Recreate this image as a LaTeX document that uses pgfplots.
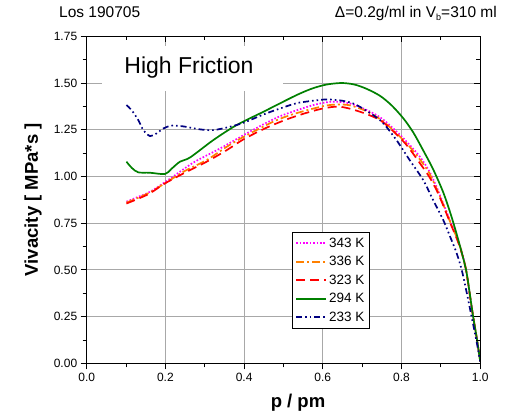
\documentclass[border=0pt]{standalone}
\usepackage{fontspec}
\setmainfont{Liberation Sans}
\usepackage{pgfplots}
\pgfplotsset{compat=1.18}
\definecolor{cmag}{HTML}{FF00FF}
\definecolor{myorange}{HTML}{FF8000}
\definecolor{cred}{HTML}{FF0000}
\definecolor{cgreen}{HTML}{008000}
\definecolor{cnavy}{HTML}{000080}
\definecolor{cgrid}{HTML}{A8A8A8}
\begin{document}
\begin{tikzpicture}[x=1bp,y=1bp]
\path[use as bounding box] (0,0) rectangle (512,414);
\node[anchor=base west,font=\fontsize{15.5bp}{17bp}\selectfont,inner sep=0] at (59,396) {Los 190705};
\node[anchor=base east,font=\fontsize{15.5bp}{17bp}\selectfont,inner sep=0] at (497,396) {Δ=0.2g/ml in V\raisebox{-0.35ex}{\fontsize{9bp}{10bp}\selectfont b}=310 ml};
\begin{axis}[
  at={(86.7bp,50.7bp)}, anchor=south west,
  scale only axis, width=393.5bp, height=327bp,
  xmin=0, xmax=1, ymin=0, ymax=1.75,
  xtick={0,0.2,...,1.0}, ytick={0,0.25,...,1.75},
  minor x tick num=1, minor y tick num=1,
  xtick pos=bottom, ytick pos=left,
  tick align=outside,
  major tick length=6bp, minor tick length=4bp,
  tick style={black, line width=0.8bp},
  grid=major, major grid style={cgrid, line width=0.8bp},
  axis line style={black, line width=1.1bp},
  ticklabel style={font=\fontsize{12bp}{14bp}\selectfont},
  /pgf/number format/assume math mode=true,
  xticklabel style={/pgf/number format/.cd, fixed, fixed zerofill, precision=1},
  yticklabel style={/pgf/number format/.cd, fixed, fixed zerofill, precision=2},
  xlabel={\textbf{p / pm}},
  ylabel={\textbf{Vivacity [ MPa*s ]}},
  label style={font=\fontsize{18.5bp}{20bp}\selectfont},
  xlabel style={at={(axis description cs:0.537,-0.12)}, anchor=center},
  ylabel style={at={(axis description cs:-0.1365,0.5)}, anchor=center},
  legend style={at={(0.522,0.4015)}, anchor=north west, draw=black,
    font=\fontsize{13.5bp}{15bp}\selectfont, inner xsep=3bp, inner ysep=3.5bp, row sep=3.6bp,
    legend cell align=left},
  legend image code/.code={\draw[#1, line width=1.7bp] (0bp,0bp) -- (30bp,0bp);},
]
\fill[white] (axis cs:0.039,1.457) rectangle (axis cs:0.499,1.70);
\node[font=\fontsize{23bp}{25bp}\selectfont] at (axis cs:0.26,1.585) {High Friction};

\addplot[cmag, line width=1.7bp, smooth, dash pattern=on 1.6bp off 1.8bp] coordinates {
(0.101,0.865) (0.13,0.89) (0.161,0.918) (0.207,0.981) (0.24,1.03) (0.275,1.079)
(0.339,1.150) (0.407,1.231) (0.45,1.28) (0.491,1.322) (0.535,1.355) (0.576,1.382)
(0.61,1.397) (0.635,1.400) (0.67,1.39) (0.712,1.355) (0.75,1.31) (0.792,1.231)
(0.82,1.17) (0.847,1.105) (0.87,1.03) (0.889,0.945) (0.905,0.86) (0.923,0.767)
(0.94,0.68) (0.953,0.60) (0.964,0.50) (0.973,0.375) (0.982,0.25) (0.992,0.125) (1.0,0.01)};
\addlegendentry{343 K}
\addplot[myorange, line width=1.7bp, smooth, dash pattern=on 8bp off 3bp on 2bp off 3bp] coordinates {
(0.101,0.86) (0.13,0.885) (0.161,0.915) (0.2,0.965) (0.25,1.03) (0.305,1.088)
(0.356,1.159) (0.398,1.211) (0.474,1.293) (0.52,1.33) (0.57,1.36) (0.61,1.38)
(0.64,1.385) (0.67,1.38) (0.71,1.35) (0.75,1.30) (0.79,1.225) (0.82,1.16)
(0.847,1.09) (0.87,1.02) (0.889,0.935) (0.905,0.855) (0.923,0.76) (0.94,0.675)
(0.953,0.595) (0.964,0.50) (0.973,0.375) (0.982,0.25) (0.992,0.125) (1.0,0.01)};
\addlegendentry{336 K}
\addplot[cred, line width=1.7bp, smooth, dash pattern=on 9bp off 5bp] coordinates {
(0.101,0.855) (0.13,0.88) (0.161,0.91) (0.199,0.963) (0.254,1.025) (0.305,1.079)
(0.356,1.141) (0.398,1.198) (0.453,1.257) (0.504,1.302) (0.55,1.335) (0.601,1.364)
(0.644,1.373) (0.695,1.346) (0.745,1.302) (0.78,1.24) (0.813,1.168) (0.847,1.07)
(0.87,1.0) (0.889,0.927) (0.905,0.85) (0.923,0.755) (0.94,0.67) (0.953,0.59)
(0.964,0.50) (0.973,0.375) (0.982,0.25) (0.992,0.125) (1.0,0.01)};
\addlegendentry{323 K}
\addplot[cgreen, line width=1.7bp, smooth] coordinates {
(0.101,1.079) (0.115,1.045) (0.131,1.022) (0.16,1.02) (0.199,1.013) (0.215,1.04)
(0.237,1.079) (0.263,1.102) (0.322,1.195) (0.381,1.275) (0.449,1.346) (0.491,1.391)
(0.538,1.440) (0.575,1.472) (0.61,1.492) (0.648,1.500) (0.68,1.492) (0.71,1.47)
(0.745,1.432) (0.775,1.38) (0.805,1.31) (0.83,1.235) (0.855,1.14) (0.88,1.04)
(0.906,0.915) (0.927,0.785) (0.947,0.64) (0.964,0.50) (0.973,0.38) (0.982,0.25)
(0.992,0.125) (1.0,0.01)};
\addlegendentry{294 K}
\addplot[cnavy, line width=1.7bp, smooth, dash pattern=on 6bp off 3bp on 1.6bp off 3bp on 1.6bp off 3bp] coordinates {
(0.101,1.382) (0.114,1.355) (0.131,1.302) (0.144,1.248) (0.161,1.216) (0.178,1.231)
(0.195,1.257) (0.216,1.272) (0.245,1.268) (0.288,1.252) (0.322,1.248) (0.364,1.266)
(0.398,1.287) (0.457,1.338) (0.517,1.382) (0.537,1.394) (0.575,1.405) (0.610,1.412)
(0.65,1.405) (0.686,1.382) (0.745,1.302) (0.784,1.204) (0.82,1.09) (0.855,0.981)
(0.88,0.875) (0.906,0.767) (0.925,0.67) (0.940,0.59) (0.953,0.50) (0.966,0.375)
(0.978,0.25) (0.99,0.125) (1.0,0.01)};
\addlegendentry{233 K}
\end{axis}
\begin{axis}[
  at={(86.7bp,50.7bp)}, anchor=south west,
  scale only axis, width=393.5bp, height=327bp,
  xmin=0, xmax=1, ymin=0, ymax=1.75,
  xtick={0,0.2,...,1.0}, ytick={0,0.25,...,1.75},
  minor x tick num=1, minor y tick num=1,
  xtick pos=right, ytick pos=right,
  tick align=inside,
  major tick length=6bp, minor tick length=4bp,
  tick style={black, line width=0.8bp},
  xticklabels={}, yticklabels={},
  axis line style={black, line width=1.1bp},
]
\end{axis}
\end{tikzpicture}
\end{document}
